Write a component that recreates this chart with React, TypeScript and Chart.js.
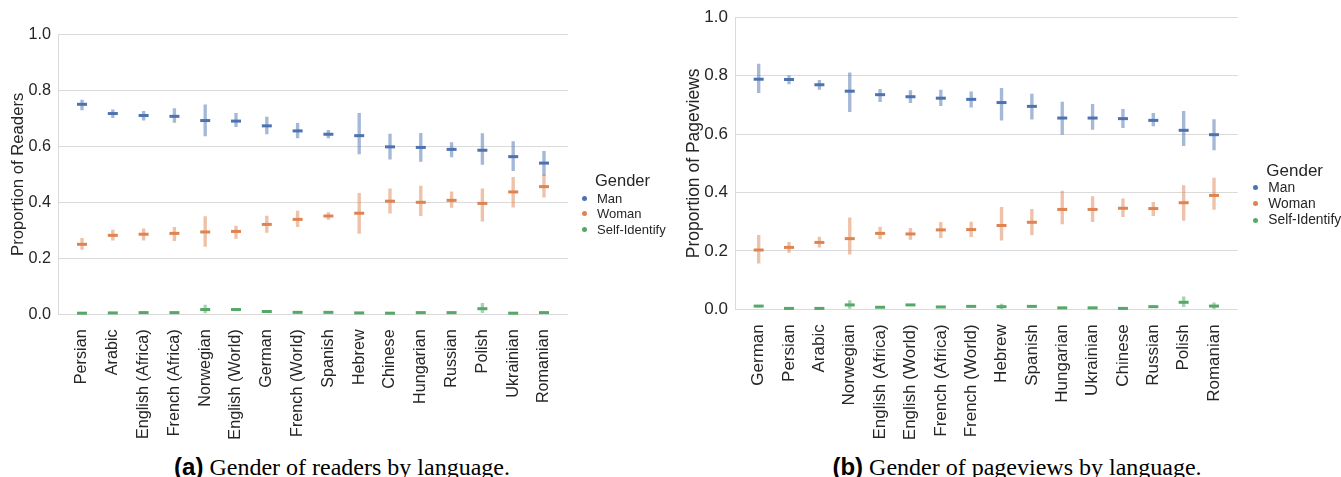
import { useEffect, useRef } from "react";
import { Chart, registerables, type ChartOptions } from "chart.js";

Chart.register(...registerables);
Chart.defaults.font.family = "'Liberation Sans', Arial, sans-serif";

const genders = ["Man", "Woman", "Self-Identify"];
const colors = ["#4c72b0", "#dd8452", "#55a868"];
const barColors = ["rgba(76,114,176,0.5)", "rgba(221,132,82,0.5)", "rgba(85,168,104,0.5)"];
const yTicks = [0, 0.2, 0.4, 0.6, 0.8, 1.0];

// (a) readers
const readerLangs = ["Persian", "Arabic", "English (Africa)", "French (Africa)", "Norwegian", "English (World)", "German", "French (World)", "Spanish", "Hebrew", "Chinese", "Hungarian", "Russian", "Polish", "Ukrainian", "Romanian"];
const readerMan = [0.750, 0.717, 0.710, 0.707, 0.692, 0.690, 0.673, 0.655, 0.643, 0.638, 0.598, 0.596, 0.589, 0.586, 0.563, 0.540];
const readerManLo = [0.730, 0.702, 0.693, 0.685, 0.637, 0.670, 0.644, 0.630, 0.630, 0.573, 0.554, 0.546, 0.562, 0.535, 0.513, 0.496];
const readerManHi = [0.765, 0.730, 0.725, 0.735, 0.748, 0.718, 0.704, 0.682, 0.657, 0.718, 0.644, 0.646, 0.613, 0.645, 0.617, 0.582];
const readerWoman = [0.250, 0.282, 0.286, 0.289, 0.294, 0.296, 0.321, 0.339, 0.351, 0.361, 0.404, 0.400, 0.407, 0.396, 0.437, 0.456];
const readerWomanLo = [0.232, 0.265, 0.265, 0.263, 0.242, 0.271, 0.292, 0.313, 0.339, 0.289, 0.361, 0.352, 0.382, 0.333, 0.383, 0.418];
const readerWomanHi = [0.271, 0.301, 0.305, 0.311, 0.349, 0.315, 0.351, 0.369, 0.363, 0.432, 0.448, 0.458, 0.437, 0.448, 0.489, 0.498];
const readerSelf = [0.004, 0.005, 0.006, 0.006, 0.017, 0.017, 0.010, 0.007, 0.007, 0.005, 0.004, 0.006, 0.006, 0.020, 0.004, 0.006];
const readerSelfLo = [0.002, 0.003, 0.004, 0.004, 0.005, 0.014, 0.007, 0.005, 0.005, 0.003, 0.002, 0.004, 0.004, 0.006, 0.002, 0.004];
const readerSelfHi = [0.006, 0.007, 0.008, 0.008, 0.033, 0.020, 0.013, 0.009, 0.009, 0.007, 0.006, 0.008, 0.008, 0.039, 0.006, 0.008];

// (b) pageviews
const viewLangs = ["German", "Persian", "Arabic", "Norwegian", "English (Africa)", "English (World)", "French (Africa)", "French (World)", "Hebrew", "Spanish", "Hungarian", "Ukrainian", "Chinese", "Russian", "Polish", "Romanian"];
const viewMan = [0.788, 0.787, 0.769, 0.747, 0.735, 0.728, 0.723, 0.719, 0.708, 0.695, 0.655, 0.655, 0.653, 0.647, 0.613, 0.598];
const viewManLo = [0.742, 0.772, 0.753, 0.677, 0.711, 0.708, 0.697, 0.692, 0.648, 0.651, 0.599, 0.616, 0.622, 0.628, 0.560, 0.546];
const viewManHi = [0.840, 0.800, 0.784, 0.810, 0.753, 0.749, 0.751, 0.745, 0.757, 0.737, 0.710, 0.702, 0.685, 0.671, 0.678, 0.650];
const viewWoman = [0.203, 0.212, 0.229, 0.242, 0.260, 0.258, 0.272, 0.273, 0.287, 0.298, 0.342, 0.342, 0.346, 0.345, 0.365, 0.390];
const viewWomanLo = [0.158, 0.195, 0.213, 0.189, 0.241, 0.239, 0.245, 0.249, 0.237, 0.255, 0.292, 0.300, 0.317, 0.321, 0.304, 0.342];
const viewWomanHi = [0.253, 0.229, 0.247, 0.313, 0.282, 0.277, 0.298, 0.299, 0.349, 0.342, 0.405, 0.386, 0.378, 0.366, 0.424, 0.449];
const viewSelf = [0.011, 0.003, 0.003, 0.015, 0.007, 0.015, 0.008, 0.010, 0.009, 0.010, 0.005, 0.005, 0.003, 0.009, 0.024, 0.011];
const viewSelfLo = [0.008, 0.001, 0.001, 0.003, 0.005, 0.013, 0.006, 0.008, 0.002, 0.008, 0.003, 0.003, 0.001, 0.007, 0.009, 0.002];
const viewSelfHi = [0.014, 0.005, 0.005, 0.030, 0.009, 0.017, 0.010, 0.012, 0.018, 0.012, 0.007, 0.007, 0.005, 0.011, 0.043, 0.022];

const TEXT = "#262626";
const GRID = "#dadada";

type Series = { mean: number[]; lo: number[]; hi: number[] };

type PanelProps = {
  left: number;
  width: number;
  height: number;
  axisWidth: number;
  padTop: number;
  plotBottom: number;
  padRight: number;
  titlePad: number;
  fontSize: number;
  yTitle: string;
  labels: string[];
  series: Series[];
};

function Panel(p: PanelProps) {
  const canvasRef = useRef<HTMLCanvasElement>(null);

  useEffect(() => {
    if (!canvasRef.current) return;

    // light vertical bars = confidence interval, short dash = mean
    const bars = p.series.map((s, g) => ({
      type: "bar" as const,
      label: genders[g] + " range",
      data: s.mean.map((_, i) => ({ x: i, y: [s.lo[i], s.hi[i]] })),
      backgroundColor: barColors[g],
      barThickness: 2.7,
      grouped: false,
      order: 2,
    }));
    const marks = p.series.map((s, g) => ({
      type: "scatter" as const,
      label: genders[g],
      data: s.mean.map((v, i) => ({ x: i, y: v })),
      pointStyle: "line" as const,
      radius: 5,
      hoverRadius: 5,
      borderWidth: 3,
      borderColor: colors[g],
      backgroundColor: colors[g],
      clip: false as const,
      order: 1,
    }));

    const options: ChartOptions<"bar"> = {
      responsive: true,
      maintainAspectRatio: false,
      animation: false,
      layout: { padding: { top: p.padTop, right: p.padRight, left: 0, bottom: 0 } },
      plugins: { legend: { display: false }, tooltip: { enabled: false } },
      scales: {
        x: {
          type: "linear",
          min: -0.78,
          max: p.labels.length - 0.22,
          offset: false,
          afterBuildTicks: (scale) => {
            scale.ticks = p.labels.map((_, i) => ({ value: i }));
          },
          afterFit: (scale) => {
            scale.height = p.height - p.plotBottom;
          },
          ticks: {
            autoSkip: false,
            minRotation: 90,
            maxRotation: 90,
            padding: 7,
            color: TEXT,
            font: { size: p.fontSize },
            callback: (v) => p.labels[Number(v)] ?? "",
          },
          grid: { display: false },
          border: { display: false },
        },
        y: {
          min: 0,
          max: 1,
          afterBuildTicks: (scale) => {
            scale.ticks = yTicks.map((v) => ({ value: v }));
          },
          afterFit: (scale) => {
            scale.width = p.axisWidth;
          },
          ticks: {
            padding: 7,
            color: TEXT,
            font: { size: p.fontSize },
            callback: (v) => Number(v).toFixed(1),
          },
          grid: { color: GRID, lineWidth: 1, drawTicks: false },
          border: { display: true, color: GRID, width: 1 },
          title: {
            display: true,
            text: p.yTitle,
            color: TEXT,
            font: { size: p.fontSize + 0.5 },
            padding: { top: p.titlePad, bottom: 0 },
          },
        },
      },
    };

    const chart = new Chart(canvasRef.current, {
      type: "bar",
      data: { datasets: [...marks, ...bars] as any },
      options,
    });

    return () => {
      chart.destroy();
    };
  }, []);

  return (
    <div style={{ position: "absolute", left: p.left, top: 0, width: p.width, height: p.height }}>
      <canvas ref={canvasRef} />
    </div>
  );
}

type LegendProps = { x: number; titleY: number; itemY: number; step: number; titleSize: number; itemSize: number };

function Legend(l: LegendProps) {
  const line = (size: number) => ({ position: "absolute" as const, fontSize: size, lineHeight: `${size}px`, whiteSpace: "nowrap" as const, color: TEXT });
  return (
    <>
      <div style={{ ...line(l.titleSize), left: l.x - 2, top: l.titleY - l.titleSize / 2 }}>Gender</div>
      {genders.map((g, i) => (
        <div key={g}>
          <div
            style={{
              position: "absolute",
              left: l.x - 15.5,
              top: l.itemY + i * l.step - 2.5,
              width: 5,
              height: 5,
              borderRadius: "50%",
              background: colors[i],
            }}
          />
          <div style={{ ...line(l.itemSize), left: l.x, top: l.itemY + i * l.step - l.itemSize / 2 }}>{g}</div>
        </div>
      ))}
    </>
  );
}

function Caption({ center, tag, text }: { center: number; tag: string; text: string }) {
  return (
    <div
      style={{
        position: "absolute",
        left: center - 300,
        width: 600,
        top: 455,
        textAlign: "center",
        fontSize: 24,
        lineHeight: "24px",
        whiteSpace: "nowrap",
        color: "#000",
        fontFamily: "'Liberation Serif', 'Times New Roman', serif",
      }}
    >
      <span style={{ fontFamily: "'Liberation Sans', Arial, sans-serif", fontWeight: 700 }}>{tag}</span> {text}
    </div>
  );
}

export default function App() {
  return (
    <div style={{ position: "absolute", left: 0, top: 0, width: 1341, height: 477, overflow: "hidden", background: "#fff", fontFamily: "'Liberation Sans', Arial, sans-serif" }}>
      <Panel
        left={0}
        width={680}
        height={440}
        axisWidth={58}
        padTop={34.3}
        plotBottom={314.3}
        padRight={112}
        titlePad={8}
        fontSize={16.2}
        yTitle="Proportion of Readers"
        labels={readerLangs}
        series={[
          { mean: readerMan, lo: readerManLo, hi: readerManHi },
          { mean: readerWoman, lo: readerWomanLo, hi: readerWomanHi },
          { mean: readerSelf, lo: readerSelfLo, hi: readerSelfHi },
        ]}
      />
      <Panel
        left={680}
        width={661}
        height={440}
        axisWidth={55}
        padTop={17.3}
        plotBottom={309.3}
        padRight={103.3}
        titlePad={4}
        fontSize={17}
        yTitle="Proportion of Pageviews"
        labels={viewLangs}
        series={[
          { mean: viewMan, lo: viewManLo, hi: viewManHi },
          { mean: viewWoman, lo: viewWomanLo, hi: viewWomanHi },
          { mean: viewSelf, lo: viewSelfLo, hi: viewSelfHi },
        ]}
      />
      <Legend x={597} titleY={180.7} itemY={198.3} step={15.5} titleSize={16.5} itemSize={13} />
      <Legend x={1268.3} titleY={170} itemY={187.7} step={16.2} titleSize={17} itemSize={13.8} />
      <Caption center={342} tag="(a)" text="Gender of readers by language." />
      <Caption center={1017} tag="(b)" text="Gender of pageviews by language." />
    </div>
  );
}
